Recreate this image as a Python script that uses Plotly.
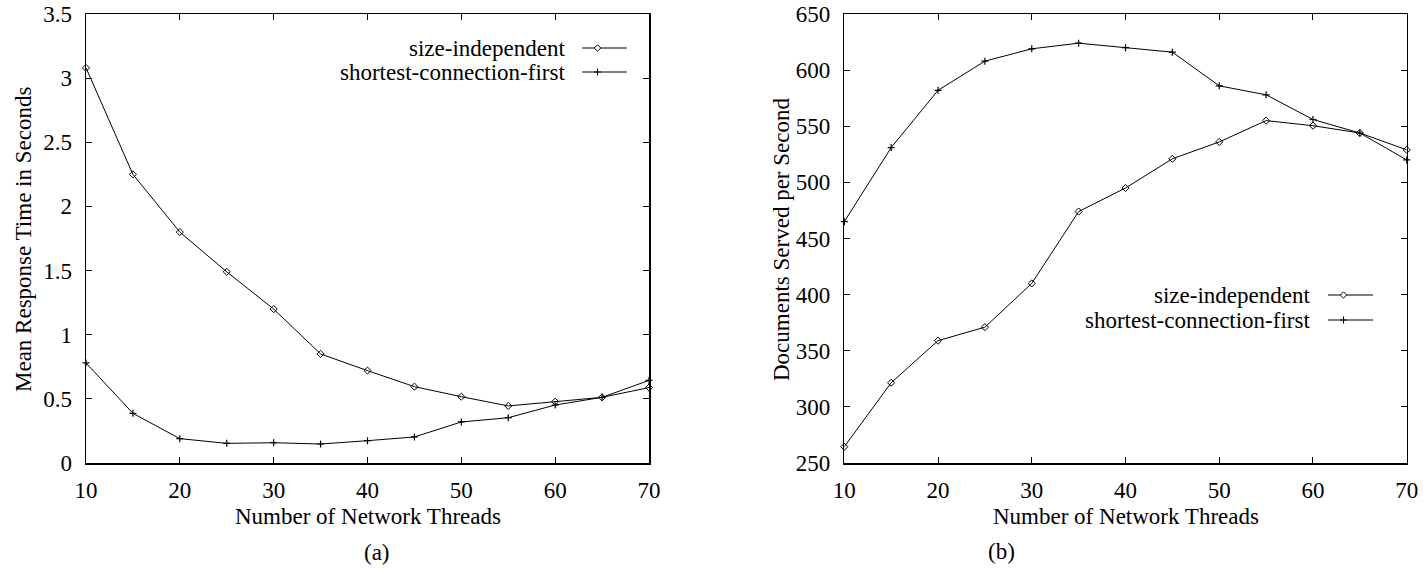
import plotly.graph_objects as go

W, H = 1423, 568

threads = [10, 15, 20, 25, 30, 35, 40, 45, 50, 55, 60, 65, 70]

# (a) Mean response time in seconds
resp_size_indep = [3.08, 2.25, 1.80, 1.49, 1.20, 0.85, 0.72, 0.595, 0.517, 0.445, 0.478, 0.512, 0.588]
resp_scf = [0.78, 0.387, 0.19, 0.153, 0.158, 0.148, 0.174, 0.203, 0.32, 0.353, 0.452, 0.512, 0.644]

# (b) Documents served per second
docs_size_indep = [264.5, 321.5, 359, 371, 410, 474, 495, 521, 536, 555, 550.5, 544, 529]
docs_scf = [465, 531, 582, 608, 619, 624, 620, 616, 586, 578, 556, 544, 520]

series_names = ["size-independent", "shortest-connection-first"]
x_ticks = [10, 20, 30, 40, 50, 60, 70]
y_ticks_a = [0, 0.5, 1, 1.5, 2, 2.5, 3, 3.5]
y_ticks_b = [250, 300, 350, 400, 450, 500, 550, 600, 650]

FONT = "Liberation Serif, Times New Roman, serif"
FS = 23

def px_x(p):
    return p / W

def px_y(p):
    return 1 - p / H

fig = go.Figure()

marker_si = dict(symbol="diamond-open", size=5.5, color="black", line=dict(width=1, color="black"))
marker_scf = dict(symbol="cross-thin", size=5, color="black", line=dict(width=1.2, color="black"))

fig.add_trace(go.Scatter(x=threads, y=resp_size_indep, mode="lines+markers", name=series_names[0],
                         line=dict(color="black", width=1), marker=marker_si, xaxis="x", yaxis="y",
                         cliponaxis=False))
fig.add_trace(go.Scatter(x=threads, y=resp_scf, mode="lines+markers", name=series_names[1],
                         line=dict(color="black", width=1), marker=marker_scf, xaxis="x", yaxis="y",
                         cliponaxis=False))
fig.add_trace(go.Scatter(x=threads, y=docs_size_indep, mode="lines+markers", name=series_names[0],
                         line=dict(color="black", width=1), marker=marker_si, xaxis="x2", yaxis="y2",
                         cliponaxis=False))
fig.add_trace(go.Scatter(x=threads, y=docs_scf, mode="lines+markers", name=series_names[1],
                         line=dict(color="black", width=1), marker=marker_scf, xaxis="x2", yaxis="y2",
                         cliponaxis=False))

# custom legends (text left of sample, gnuplot style) drawn as paper-space shapes
legends = [
    dict(text_right=566.7, rows=[48, 72], line=(582, 627), mk=597.5),
    dict(text_right=1311.7, rows=[295, 320], line=(1328, 1373), mk=1343.5),
]
shapes = []
for lg in legends:
    for i, name in enumerate(series_names):
        yy = lg["rows"][i]
        shapes.append(dict(type="line", xref="paper", yref="paper",
                           x0=px_x(lg["line"][0]), x1=px_x(lg["line"][1]), y0=px_y(yy), y1=px_y(yy),
                           line=dict(color="black", width=1)))
        cx, cy = lg["mk"], yy
        if i == 0:
            d = 3.2
            path = "M {} {} L {} {} L {} {} L {} {} Z".format(
                px_x(cx - d), px_y(cy), px_x(cx), px_y(cy - d), px_x(cx + d), px_y(cy), px_x(cx), px_y(cy + d))
        else:
            d = 3.5
            path = "M {} {} L {} {} M {} {} L {} {}".format(
                px_x(cx), px_y(cy - d), px_x(cx), px_y(cy + d), px_x(cx - d), px_y(cy), px_x(cx + d), px_y(cy))
        shapes.append(dict(type="path", xref="paper", yref="paper", path=path,
                           fillcolor="white", line=dict(color="black", width=1)))
        fig.add_annotation(text=name, xref="paper", yref="paper", x=px_x(lg["text_right"]), y=px_y(yy),
                           xanchor="right", yanchor="middle", showarrow=False,
                           font=dict(family=FONT, size=FS, color="black"))

axis_common = dict(showline=True, linecolor="black", linewidth=1.5, mirror="ticks", ticks="inside",
                   ticklen=6, tickwidth=1, tickcolor="black", showgrid=False, zeroline=False,
                   automargin=False, tickfont=dict(family=FONT, size=FS, color="black"))

y_dom = [px_y(463), px_y(14)]

fig.update_layout(
    width=W, height=H,
    autosize=False,
    margin=dict(l=0, r=0, t=0, b=0, pad=0, autoexpand=False),
    paper_bgcolor="white", plot_bgcolor="white",
    showlegend=False,
    shapes=shapes,
    xaxis=dict(domain=[px_x(86), px_x(649)], range=[10, 70], tickvals=x_ticks,
               ticklabelstandoff=6, anchor="y", **axis_common),
    yaxis=dict(domain=y_dom, range=[0, 3.5], tickvals=y_ticks_a, ticklabelstandoff=8,
               anchor="x", **axis_common),
    xaxis2=dict(domain=[px_x(844.3), px_x(1406.7)], range=[10, 70], tickvals=x_ticks,
                ticklabelstandoff=6, anchor="y2", **axis_common),
    yaxis2=dict(domain=y_dom, range=[250, 650], tickvals=y_ticks_b, ticklabelstandoff=8,
                anchor="x2", **axis_common),
)

titles = [
    ("Number of Network Threads", 367.5, 516, 0),
    ("Number of Network Threads", 1125.5, 516, 0),
    ("Mean Response Time in Seconds", 23, 240, -90),
    ("Documents Served per Second", 781, 240, -90),
    ("(a)", 376.5, 552, 0),
    ("(b)", 1001, 551, 0),
]
for txt, x, y, ang in titles:
    fig.add_annotation(text=txt, xref="paper", yref="paper", x=px_x(x), y=px_y(y),
                       xanchor="center", yanchor="middle", showarrow=False, textangle=ang,
                       font=dict(family=FONT, size=FS, color="black"))

fig.write_html("out.html", config={"displayModeBar": False, "staticPlot": True},
               post_script="document.body.style.margin='0';document.body.style.overflow='hidden';")
